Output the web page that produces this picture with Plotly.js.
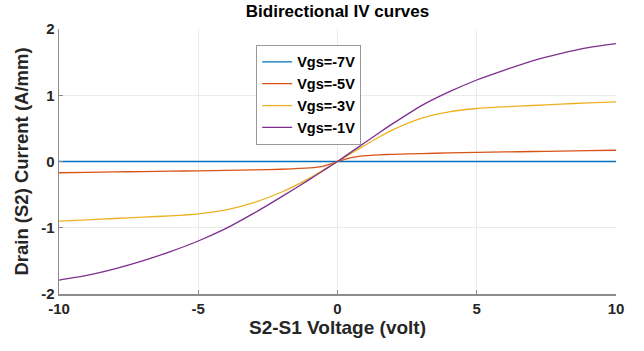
<!DOCTYPE html>
<html>
<head>
<meta charset="utf-8">
<script src="https://cdn.plot.ly/plotly-3.0.1.min.js"></script>
<style>html,body{margin:0;padding:0;background:#fff;}#chart{width:644px;height:351px;}</style>
</head>
<body>
<div id="chart"></div>
<script>
var voltage = [-10,-9,-8,-7,-6,-5,-4,-3,-2,-1,-0.5,0,0.5,1,1.5,2,3,4,5,6,7,8,9,10];
var vgsM7 = [0,0,0,0,0,0,0,0,0,0,0,0,0,0,0,0,0,0,0,0,0,0,0,0];
var vgsM5 = [-0.17,-0.165,-0.158,-0.152,-0.146,-0.14,-0.133,-0.126,-0.117,-0.097,-0.068,0,0.06,0.088,0.101,0.109,0.12,0.129,0.137,0.144,0.151,0.157,0.163,0.17];
var vgsM3 = [-0.90,-0.88,-0.86,-0.84,-0.82,-0.79,-0.73,-0.62,-0.46,-0.25,-0.125,0,0.125,0.25,0.37,0.48,0.65,0.75,0.80,0.825,0.845,0.865,0.885,0.90];
var vgsM1 = [-1.79,-1.72,-1.62,-1.50,-1.36,-1.20,-1.01,-0.78,-0.53,-0.27,-0.135,0,0.145,0.29,0.435,0.575,0.84,1.05,1.23,1.38,1.52,1.63,1.72,1.78];
var seriesNames = ['Vgs=-7V','Vgs=-5V','Vgs=-3V','Vgs=-1V'];
var seriesColors = ['#0072BD','#D95319','#EDB120','#7E2F8E'];
var seriesValues = [vgsM7, vgsM5, vgsM3, vgsM1];
var xTicks = [-10,-5,0,5,10];
var yTicks = [-2,-1,0,1,2];

var traces = seriesValues.map(function(v,i){
  return {x: voltage, y: v, type:'scatter', mode:'lines', name: '<b>'+seriesNames[i]+'</b>',
    line:{color: seriesColors[i], width:1.3, shape:'spline', smoothing:0.6}};
});
var font = {family:'"Liberation Sans", Arial, sans-serif', color:'#262626'};
var layout = {
  width:644, height:351,
  margin:{l:59, r:28, t:29, b:57},
  paper_bgcolor:'#fff', plot_bgcolor:'#fff',
  font: font,
  title:{text:'<b>Bidirectional IV curves</b>', x:0.5, xref:'paper', y:0.968, yanchor:'middle',
    font:{family:font.family, size:17, color:'#000'}},
  showlegend:true,
  legend:{x:0.354, y:0.94, xanchor:'left', yanchor:'top', bgcolor:'#fff', bordercolor:'#9a9a9a', borderwidth:1,
    font:{family:font.family, size:14.5, color:'#000'}, tracegroupgap:0, itemwidth:30},
  xaxis:{range:[-10,10], tickvals:xTicks, ticktext:xTicks.map(function(t){return '<b>'+t+'</b>';}),
    showgrid:true, gridcolor:'#ebebeb', gridwidth:1, zeroline:false,
    showline:true, linecolor:'#8c8c8c', linewidth:1.5, ticks:'inside', ticklen:4, tickcolor:'#8c8c8c',
    tickfont:{family:font.family, size:15, color:'#262626'},
    title:{text:'<b>S2-S1 Voltage (volt)</b>', standoff:5, font:{family:font.family, size:19, color:'#262626'}}},
  yaxis:{range:[-2,2], tickvals:yTicks, ticktext:yTicks.map(function(t){return '<b>'+t+'</b>';}),
    showgrid:true, gridcolor:'#ebebeb', gridwidth:1, zeroline:false,
    showline:true, linecolor:'#8c8c8c', linewidth:1.5, ticks:'inside', ticklen:4, tickcolor:'#8c8c8c',
    tickfont:{family:font.family, size:15, color:'#262626'},
    title:{text:'<b>Drain (S2) Current (A/mm)</b>', standoff:7, font:{family:font.family, size:18.5, color:'#262626'}}}
};
Plotly.newPlot('chart', traces, layout, {displayModeBar:false, staticPlot:true});
</script>
</body>
</html>
